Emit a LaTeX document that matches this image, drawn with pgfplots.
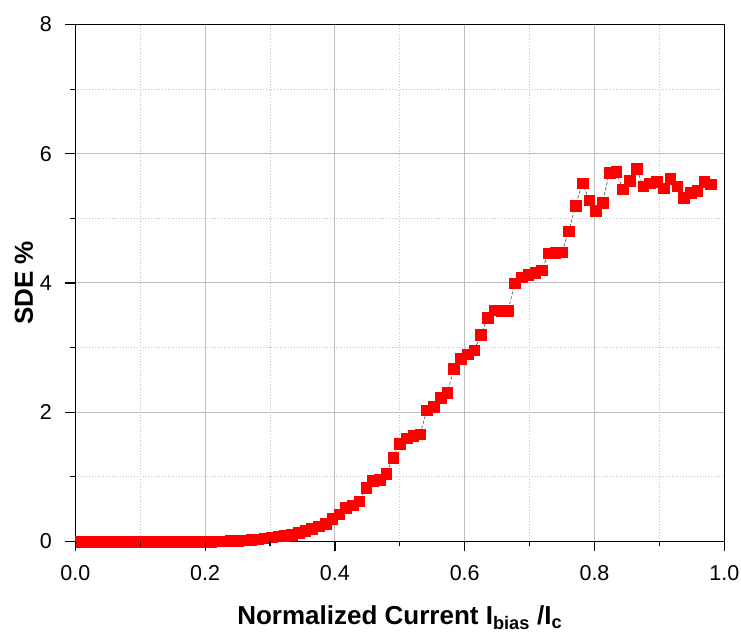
\documentclass[border=0pt]{standalone}
\usepackage{fontspec}
\setmainfont{Liberation Sans}
\usepackage{pgfplots}
\pgfplotsset{compat=1.18}
\definecolor{majgrid}{RGB}{190,190,190}
\definecolor{mingrid}{RGB}{195,195,195}
\definecolor{sderred}{RGB}{255,0,0}
\begin{document}
\begin{tikzpicture}
\begin{axis}[
  name=ax,
  scale only axis,
  width=649pt, height=517pt,
  xmin=0, xmax=1.0, ymin=0, ymax=8,
  xtick={0,0.2,0.4,0.6,0.8,1.0},
  minor xtick={0.1,0.3,0.5,0.7,0.9},
  ytick={0,2,4,6,8},
  minor ytick={1,3,5,7},
  xtick pos=bottom, ytick pos=left,
  xtick align=outside, ytick align=outside,
  major tick length=10pt,
  minor tick length=5pt,
  every tick/.append style={draw=black, line width=1.2pt, solid},
  axis line style={black, line width=1.2pt},
  grid=both,
  major grid style={majgrid, line width=1pt},
  minor grid style={mingrid, line width=0.8pt, dotted},
  /pgf/number format/assume math mode=true,
  xticklabel style={/pgf/number format/fixed, /pgf/number format/fixed zerofill, /pgf/number format/precision=1, yshift=-10pt},
  yticklabel style={/pgf/number format/fixed, /pgf/number format/precision=0, xshift=-10pt},
  ticklabel style={font=\fontsize{21.5}{24}\selectfont},
  label style={font=\fontsize{26}{29}\selectfont\bfseries},
  xlabel={Normalized Current I\textsubscript{bias} /I\textsubscript{c}},
  ylabel={SDE \%},
  xlabel style={at={(axis description cs:0.5,0)}, anchor=base, yshift=-83.5pt},
  ylabel style={at={(axis description cs:-0.0652,0.5)}, anchor=base},
]
\addplot[color=darkgray, line width=0.6pt, densely dashed,
  mark=square*, mark size=5.3pt,
  mark options={solid, draw=sderred, fill=sderred, line width=0.3pt}]
coordinates {
(0.008,0.0) (0.0104,0.0) (0.0208,0.0) (0.0313,0.0) (0.0417,0.0) (0.0521,0.0)
(0.0625,0.0) (0.0729,0.0) (0.0833,0.0) (0.0938,0.0) (0.1042,0.0) (0.1146,0.0)
(0.125,0.0) (0.1354,0.0) (0.1458,0.0) (0.1563,0.0) (0.1667,0.0) (0.1771,0.0)
(0.1875,0.0) (0.1979,0.001) (0.2083,0.002) (0.2188,0.004) (0.2292,0.006) (0.2396,0.009)
(0.25,0.013) (0.2604,0.018) (0.2708,0.025) (0.2813,0.035) (0.2917,0.05) (0.3021,0.065)
(0.3125,0.08) (0.3229,0.095) (0.3333,0.11) (0.3438,0.136) (0.3542,0.167) (0.3646,0.20)
(0.375,0.24) (0.3854,0.28) (0.3958,0.35) (0.4063,0.425) (0.4167,0.52) (0.4271,0.565)
(0.4375,0.627) (0.4479,0.83) (0.4583,0.94) (0.4688,0.96) (0.4792,1.05) (0.4896,1.30)
(0.5,1.51) (0.5104,1.60) (0.5208,1.64) (0.5313,1.66) (0.5417,2.035) (0.5521,2.09)
(0.5625,2.23) (0.5729,2.30) (0.5833,2.67) (0.5938,2.825) (0.6042,2.90) (0.6146,2.96)
(0.625,3.20) (0.6354,3.465) (0.6458,3.58) (0.6563,3.57) (0.6667,3.57) (0.6771,4.00)
(0.6875,4.09) (0.6979,4.125) (0.7083,4.16) (0.7188,4.20) (0.7292,4.46) (0.7396,4.47)
(0.75,4.48) (0.7604,4.80) (0.7708,5.20) (0.7813,5.545) (0.7917,5.28) (0.8021,5.12)
(0.8125,5.245) (0.8229,5.71) (0.8333,5.72) (0.8438,5.45) (0.8542,5.58) (0.8646,5.77)
(0.875,5.50) (0.8854,5.545) (0.8958,5.57) (0.9063,5.47) (0.9167,5.615) (0.9271,5.50)
(0.9375,5.32) (0.9479,5.40) (0.9583,5.43) (0.9688,5.57) (0.9792,5.53)
};
\pgfplotsinvokeforeach{0,...,10}{\coordinate (mx#1) at (axis cs:#1*0.1,0);}
\pgfplotsinvokeforeach{0,...,8}{\coordinate (my#1) at (axis cs:0,#1);}
\end{axis}
\foreach \i in {0,2,4,6,8,10}{\draw[black, line width=1.2pt] (mx\i) -- ++(0,-10pt);}
\foreach \i in {1,3,5,7,9}{\draw[black, line width=1.2pt] (mx\i) -- ++(0,-5pt);}
\foreach \i in {0,2,4,6,8}{\draw[black, line width=1.2pt] (my\i) -- ++(-10pt,0);}
\foreach \i in {1,3,5,7}{\draw[black, line width=1.2pt] (my\i) -- ++(-5pt,0);}
\pgfresetboundingbox
\path[use as bounding box] ([shift={(-75.3pt,-93.5pt)}]ax.south west) rectangle ([shift={(16.7pt,24.5pt)}]ax.north east);
\end{tikzpicture}
\end{document}
